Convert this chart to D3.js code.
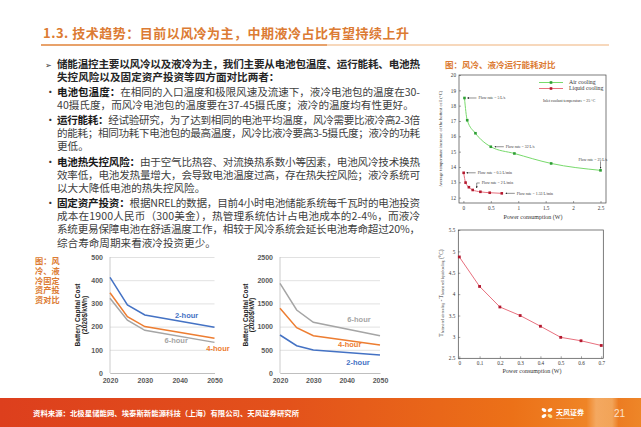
<!DOCTYPE html>
<html><head><meta charset="utf-8">
<script src="https://cdn.jsdelivr.net/npm/d3@7"></script>
<style>
html,body{margin:0;padding:0;background:#fff;}
svg{display:block;}
</style></head><body>
<svg id="c" width="641" height="427"></svg>
<script>
// ================= DATA =================
const titleText = "1.3. 技术趋势：目前以风冷为主，中期液冷占比有望持续上升";
const introLines = [
  "储能温控主要以风冷以及液冷为主，我们主要从电池包温度、运行能耗、电池热",
  "失控风险以及固定资产投资等四方面对比两者："
];
const bulletHeads = ["电池包温度：", "运行能耗：", "电池热失控风险：", "固定资产投资："];
const bulletBodies = [
  ["在相同的入口温度和极限风速及流速下，液冷电池包的温度在30-",
   "40摄氏度，而风冷电池包的温度要在37-45摄氏度；液冷的温度均有性更好。"],
  ["经试验研究，为了达到相同的电池平均温度，风冷需要比液冷高2-3倍",
   "的能耗；相同功耗下电池包的最高温度，风冷比液冷要高3-5摄氏度；液冷的功耗",
   "更低。"],
  ["由于空气比热容、对流换热系数小等因素，电池风冷技术换热",
   "效率低，电池发热量增大，会导致电池温度过高，存在热失控风险；液冷系统可",
   "以大大降低电池的热失控风险。"],
  ["根据NREL的数据，目前4小时电池储能系统每千瓦时的电池投资",
   "成本在1900人民币（300美金），热管理系统估计占电池成本的2-4%，而液冷",
   "系统更易保障电池在舒适温度工作，相较于风冷系统会延长电池寿命超过20%，",
   "综合寿命周期来看液冷投资更少。"]
];
const captionLeft = ["图：风", "冷、液", "冷固定", "资产投", "资对比"];
const captionRight = "图：风冷、液冷运行能耗对比";
const sourceText = "资料来源：北极星储能网、埃泰斯新能源科技（上海）有限公司、天风证券研究所";
const pageNumber = "21";

// NREL battery capital cost
const years = [2020, 2025, 2030, 2050];
const yearTicks = [2020, 2030, 2040, 2050];
const seriesNames = ["2-hour", "4-hour", "6-hour"];
const costKWh2h = [412, 293, 250, 197];
const costKWh4h = [346, 243, 200, 150];
const costKWh6h = [322, 228, 184, 132];
const costKW2h = [819, 588, 496, 388];
const costKW4h = [1394, 976, 804, 603];
const costKW6h = [1933, 1358, 1093, 804];
const kwhTicks = [0, 100, 200, 300, 400, 500];
const kwTicks = [0, 500, 1000, 1500, 2000, 2500];

// Air vs liquid cooling: temperature increase vs power consumption
const airPower = [0.02, 0.07, 0.22, 0.5, 0.93, 1.6, 2.5];
const airTemp = [18.5, 17.05, 16.2, 15.32, 14.88, 14.23, 13.78];
const liqPower = [0.005, 0.04, 0.1, 0.17, 0.31, 0.48, 0.7];
const liqTemp = [13.62, 12.98, 12.68, 12.5, 12.38, 12.32, 12.28];
const tempTicks = [12, 13, 14, 15, 16, 17, 18, 19, 20];
const powerTicksC = [0, 0.5, 1, 1.5, 2, 2.5];
const flowLabels = ["Flow rate = 5 L/s", "Flow rate = 32 L/s", "Flow rate = 25 L/s",
  "Flow rate = 0.5 L/min", "Flow rate = 2 L/min", "Flow rate = 1.53 L/min"];

// Temperature difference air - liquid
const diffPower = [0, 0.1, 0.2, 0.3, 0.4, 0.5, 0.6, 0.7];
const diffTemp = [4.87, 4.18, 3.70, 3.50, 3.25, 2.99, 2.91, 2.80];
const diffTicks = [2.5, 3, 3.5, 4, 4.5, 5, 5.5];
const powerTicksD = [0, 0.1, 0.2, 0.3, 0.4, 0.5, 0.6, 0.7];

// ================= DRAW =================
const svg = d3.select("#c");
const CJK = "'Noto Sans CJK SC','Noto Sans',sans-serif";
const SANS = "'Liberation Sans',Arial,sans-serif";
const SERIF = "'Liberation Serif','Times New Roman',serif";
const ORANGE = "#DC7B33";

function fitWidth(sel, target) {
  const node = sel.node();
  const natural = node.getComputedTextLength();
  const n = Array.from(node.textContent).length;
  if (n > 1) sel.attr("letter-spacing", (target - natural) / (n - 1));
}

// ---- title ----
const title = svg.append("text").attr("x", 43).attr("y", 37.5)
  .attr("font-family", CJK).attr("font-size", 13).attr("font-weight", 700)
  .attr("fill", ORANGE).text(titleText);
fitWidth(title, 366);
svg.append("line").attr("x1", 41).attr("x2", 609).attr("y1", 45).attr("y2", 45)
  .attr("stroke", "#F0B27A").attr("stroke-width", 1.2);
svg.append("line").attr("x1", 41).attr("x2", 327).attr("y1", 45).attr("y2", 45)
  .attr("stroke", "#E39050").attr("stroke-width", 1.4);

// ---- body text (one text element per paragraph, one tspan per line) ----
const FS = 10.6;
const textX = 57, rightEdge = 420;
const intro = svg.append("text").attr("font-family", CJK).attr("font-size", FS)
  .attr("font-weight", 700).attr("fill", "#262626");
introLines.forEach((s, i) => {
  const ts = intro.append("tspan").attr("x", textX).attr("y", 64 + i * 13 + 4).text(s);
  if (i === 0) fitWidth(ts, rightEdge - textX);
});
svg.append("text").attr("x", 45).attr("y", 64 + 3.5).attr("font-family", "'DejaVu Sans'")
  .attr("font-size", 8).attr("fill", "#333").text("➢");

const bulletStart = [92, 120, 162, 203];
const LH = 13.2;
bulletBodies.forEach((lines, bi) => {
  const y0 = bulletStart[bi];
  svg.append("text").attr("x", 45).attr("y", y0 + 4).attr("font-family", CJK)
    .attr("font-size", FS).attr("fill", "#333").text("•");
  const t = svg.append("text").attr("font-family", CJK).attr("font-size", FS).attr("fill", "#404040");
  lines.forEach((s, li) => {
    const ts = t.append("tspan").attr("x", textX).attr("y", y0 + li * LH + 4);
    if (li === 0) {
      ts.append("tspan").attr("font-weight", 700).attr("fill", "#1a1a1a").text(bulletHeads[bi]);
    }
    ts.append("tspan").text(s);
    if (li < lines.length - 1 && !(bi === 0 && li === 1)) fitWidth(ts, rightEdge - textX);
  });
});

// ---- captions ----
const capL = svg.append("text").attr("font-family", CJK).attr("font-size", 8.2)
  .attr("font-weight", 700).attr("fill", ORANGE);
captionLeft.forEach((s, i) => {
  capL.append("tspan").attr("x", 35).attr("y", 261 + i * 9.8 + 3).text(s);
});
svg.append("text").attr("x", 445).attr("y", 65 + 3.2)
  .attr("font-family", CJK).attr("font-size", 8.5).attr("font-weight", 700)
  .attr("fill", ORANGE).text(captionRight);

// ---- cost charts ----
const seriesColors = {"2-hour": "#4472C4", "4-hour": "#ED7D31", "6-hour": "#A5A5A5"};
function costChart(cfg) {
  const x = d3.scaleLinear().domain([2020, 2050]).range([cfg.x0, cfg.x1]);
  const y = d3.scaleLinear().domain([0, cfg.max]).range([373, 257]);
  const g = svg.append("g");
  const grid = g.append("g").attr("transform", `translate(${cfg.x0},0)`)
    .call(d3.axisLeft(y).tickValues(cfg.ticks).tickSize(-(cfg.x1 - cfg.x0)).tickFormat(""));
  grid.select(".domain").remove();
  grid.selectAll("line").attr("stroke", "#D9D9D9").attr("stroke-width", 0.8);
  const ya = g.append("g").attr("transform", `translate(${cfg.x0 - 4},0)`)
    .call(d3.axisLeft(y).tickValues(cfg.ticks).tickSize(0).tickFormat(d3.format("d")));
  ya.select(".domain").remove();
  ya.selectAll("text").attr("font-family", SANS).attr("font-size", 7).attr("font-weight", 700)
    .attr("fill", "#595959");
  const xa = g.append("g").attr("transform", `translate(0,373)`)
    .call(d3.axisBottom(x).tickValues(yearTicks).tickSize(0).tickFormat(d3.format("d")));
  xa.select(".domain").attr("stroke", "#BFBFBF");
  xa.selectAll("text").attr("font-family", SANS).attr("font-size", 7).attr("font-weight", 700)
    .attr("fill", "#595959").attr("dy", "0.95em");
  g.append("line").attr("x1", cfg.x0).attr("x2", cfg.x0).attr("y1", 257).attr("y2", 373)
    .attr("stroke", "#BFBFBF").attr("stroke-width", 0.8);
  const tt = g.append("text").attr("transform", `translate(${cfg.tx},315) rotate(-90)`)
    .attr("text-anchor", "middle").attr("font-family", SANS).attr("font-size", 6.6)
    .attr("font-weight", 700).attr("fill", "#262626");
  tt.append("tspan").attr("x", 0).attr("y", 0).text("Battery Capital Cost");
  tt.append("tspan").attr("x", 0).attr("y", 6.5).text(cfg.unit);
  const line = d3.line().x((d, i) => x(years[i])).y(d => y(d));
  cfg.series.forEach(s => {
    g.append("path").datum(s.values).attr("d", line).attr("fill", "none")
      .attr("stroke", seriesColors[s.name]).attr("stroke-width", 1.5);
  });
  cfg.labels.forEach(l => {
    g.append("text").attr("x", x(l.yr)).attr("y", y(l.v) + 2.6).attr("text-anchor", "middle")
      .attr("font-family", SANS).attr("font-size", 7.5).attr("font-weight", 700)
      .attr("fill", seriesColors[l.name]).text(l.name);
  });
}
costChart({
  x0: 110, x1: 214.5, max: 500, ticks: kwhTicks, tx: 80, unit: "(2020$/kWh)",
  series: [{name: seriesNames[0], values: costKWh2h}, {name: seriesNames[1], values: costKWh4h},
           {name: seriesNames[2], values: costKWh6h}],
  labels: [{name: "2-hour", yr: 2042, v: 250}, {name: "6-hour", yr: 2039, v: 142},
           {name: "4-hour", yr: 2051, v: 107}]
});
costChart({
  x0: 280, x1: 380, max: 2500, ticks: kwTicks, tx: 247.5, unit: "(2020$/kW)",
  series: [{name: seriesNames[0], values: costKW2h}, {name: seriesNames[1], values: costKW4h},
           {name: seriesNames[2], values: costKW6h}],
  labels: [{name: "6-hour", yr: 2043.7, v: 1164}, {name: "4-hour", yr: 2040.9, v: 625},
           {name: "2-hour", yr: 2043.4, v: 237}]
});

// ---- chart C: temperature increase ----
(function () {
  const x = d3.scaleLinear().domain([-0.08, 2.6]).range([459, 606]);
  const y = d3.scaleLinear().domain([11.65, 20]).range([203, 75]);
  const g = svg.append("g");
  g.append("rect").attr("x", 459).attr("y", 75).attr("width", 147).attr("height", 128)
    .attr("fill", "none").attr("stroke", "#444").attr("stroke-width", 0.7);
  const ya = g.append("g").attr("transform", "translate(459,0)")
    .call(d3.axisLeft(y).tickValues(tempTicks).tickSize(-2).tickPadding(3).tickFormat(d3.format("d")));
  ya.select(".domain").remove();
  const xa = g.append("g").attr("transform", "translate(0,203)")
    .call(d3.axisBottom(x).tickValues(powerTicksC).tickSize(-2).tickPadding(3).tickFormat(d => String(d)));
  xa.select(".domain").remove();
  [ya, xa].forEach(a => {
    a.selectAll("line").attr("stroke", "#444").attr("stroke-width", 0.5);
    a.selectAll("text").attr("font-family", SERIF).attr("font-size", 5.2).attr("fill", "#333");
  });
  g.append("text").attr("transform", "translate(442,139) rotate(-90)").attr("text-anchor", "middle")
    .attr("font-family", SERIF).attr("font-size", 4.6).attr("fill", "#333")
    .text("Average temperature increase of the hottest cell (°C)");
  g.append("text").attr("x", 533).attr("y", 219).attr("text-anchor", "middle")
    .attr("font-family", SERIF).attr("font-size", 6).attr("fill", "#333").text("Power consumption (W)");
  const lineA = d3.line().x((d, i) => x(airPower[i])).y(d => y(d)).curve(d3.curveMonotoneX);
  const lineL = d3.line().x((d, i) => x(liqPower[i])).y(d => y(d)).curve(d3.curveMonotoneX);
  g.append("path").datum(airTemp).attr("d", lineA).attr("fill", "none").attr("stroke", "#78DA6C").attr("stroke-width", 1);
  g.append("path").datum(liqTemp).attr("d", lineL).attr("fill", "none").attr("stroke", "#E8707E").attr("stroke-width", 1);
  airTemp.forEach((d, i) => g.append("rect").attr("x", x(airPower[i]) - 1.3).attr("y", y(d) - 1.3)
    .attr("width", 2.6).attr("height", 2.6).attr("fill", "#2E9E34"));
  liqTemp.forEach((d, i) => g.append("rect").attr("x", x(liqPower[i]) - 1.3).attr("y", y(d) - 1.3)
    .attr("width", 2.6).attr("height", 2.6).attr("fill", "#B3182E"));
  [["Air cooling", "#78DA6C", "#2E9E34", 82.5], ["Liquid cooling", "#E8707E", "#B3182E", 88.5]].forEach(l => {
    g.append("line").attr("x1", 539).attr("x2", 563).attr("y1", l[3]).attr("y2", l[3]).attr("stroke", l[1]).attr("stroke-width", 1);
    g.append("rect").attr("x", 549.7).attr("y", l[3] - 1.3).attr("width", 2.6).attr("height", 2.6).attr("fill", l[2]);
    g.append("text").attr("x", 569).attr("y", l[3] + 1.8).attr("font-family", SERIF).attr("font-size", 5.8)
      .attr("fill", "#333").text(l[0]);
  });
  g.append("text").attr("x", 543).attr("y", 102.3).attr("font-family", SERIF).attr("font-size", 3.9)
    .attr("fill", "#333").text("Inlet coolant temperature = 25 °C");
  const defs = svg.append("defs");
  defs.append("marker").attr("id", "ah").attr("viewBox", "0 0 6 6").attr("refX", 5).attr("refY", 3)
    .attr("markerWidth", 4).attr("markerHeight", 4).attr("orient", "auto")
    .append("path").attr("d", "M0,0L6,3L0,6Z").attr("fill", "#222");
  function ann(px, py, label, dx) {
    g.append("line").attr("x1", px + dx + 9).attr("x2", px + dx).attr("y1", py).attr("y2", py)
      .attr("stroke", "#222").attr("stroke-width", 0.5).attr("marker-end", "url(#ah)");
    g.append("text").attr("x", px + dx + 11).attr("y", py + 1.3).attr("font-family", SERIF)
      .attr("font-size", 3.9).attr("fill", "#333").text(label);
  }
  ann(x(airPower[0]), y(airTemp[0]), flowLabels[0], 3);
  ann(x(airPower[3]), y(airTemp[3]), flowLabels[1], 4);
  ann(x(liqPower[0]), y(liqTemp[0]), flowLabels[3], 3);
  ann(x(liqPower[6]), y(liqTemp[6]), flowLabels[5], 4);
  const lx = x(airPower[6]), ly = y(airTemp[6]);
  g.append("line").attr("x1", lx).attr("x2", lx).attr("y1", ly - 9).attr("y2", ly - 2)
    .attr("stroke", "#222").attr("stroke-width", 0.5).attr("marker-end", "url(#ah)");
  g.append("text").attr("x", lx - 22).attr("y", ly - 9.5).attr("font-family", SERIF)
    .attr("font-size", 3.9).attr("fill", "#333").text(flowLabels[2]);
  const mx = x(liqPower[3]), my = y(liqTemp[3]);
  g.append("path").attr("d", `M${mx + 7},${my - 7}L${mx + 4},${my - 7}L${mx + 4},${my - 2}`)
    .attr("fill", "none").attr("stroke", "#222").attr("stroke-width", 0.5).attr("marker-end", "url(#ah)");
  g.append("text").attr("x", mx + 9).attr("y", my - 5.7).attr("font-family", SERIF)
    .attr("font-size", 3.9).attr("fill", "#333").text(flowLabels[4]);
})();

// ---- chart D: temperature difference ----
(function () {
  const x = d3.scaleLinear().domain([-0.005, 0.71]).range([458.3, 603.3]);
  const y = d3.scaleLinear().domain([2.5, 5.5]).range([358.3, 230]);
  const g = svg.append("g");
  g.append("rect").attr("x", 458.3).attr("y", 230).attr("width", 145).attr("height", 128.3)
    .attr("fill", "none").attr("stroke", "#444").attr("stroke-width", 0.7);
  const ya = g.append("g").attr("transform", "translate(458.3,0)")
    .call(d3.axisLeft(y).tickValues(diffTicks).tickSize(-2).tickPadding(3).tickFormat(d => String(d)));
  ya.select(".domain").remove();
  const xa = g.append("g").attr("transform", "translate(0,358.3)")
    .call(d3.axisBottom(x).tickValues(powerTicksD).tickSize(-2).tickPadding(3).tickFormat(d => String(d)));
  xa.select(".domain").remove();
  [ya, xa].forEach(a => {
    a.selectAll("line").attr("stroke", "#444").attr("stroke-width", 0.5);
    a.selectAll("text").attr("font-family", SERIF).attr("font-size", 5.2).attr("fill", "#333");
  });
  const tt = g.append("text").attr("transform", "translate(443,293) rotate(-90)").attr("text-anchor", "middle")
    .attr("font-family", SERIF).attr("font-size", 5.6).attr("fill", "#333");
  tt.append("tspan").text("T");
  tt.append("tspan").attr("font-size", 3.4).attr("dy", 1.2).text("hottest cell air cooling");
  tt.append("tspan").attr("dy", -1.2).text(" - T");
  tt.append("tspan").attr("font-size", 3.4).attr("dy", 1.2).text("hottest cell liquid cooling");
  tt.append("tspan").attr("dy", -1.2).text(" (°C)");
  g.append("text").attr("x", 532).attr("y", 373).attr("text-anchor", "middle")
    .attr("font-family", SERIF).attr("font-size", 6).attr("fill", "#333").text("Power consumption (W)");
  const line = d3.line().x((d, i) => x(diffPower[i])).y(d => y(d));
  g.append("path").datum(diffTemp).attr("d", line).attr("fill", "none").attr("stroke", "#E8707E").attr("stroke-width", 1);
  diffTemp.forEach((d, i) => g.append("rect").attr("x", x(diffPower[i]) - 1.4).attr("y", y(d) - 1.4)
    .attr("width", 2.8).attr("height", 2.8).attr("fill", "#B3182E"));
})();

// ---- footer ----
const grad = svg.append("defs").append("linearGradient").attr("id", "fg");
[[0, "#DD3F1D"], [0.45, "#E3521B"], [0.8, "#EC7118"], [0.915, "#EF8426"], [0.93, "#F4A860"],
 [0.955, "#F2A458"], [0.965, "#EC7C22"], [1, "#EE8628"]].forEach(s =>
  grad.append("stop").attr("offset", s[0]).attr("stop-color", s[1]));
svg.append("rect").attr("x", 0).attr("y", 398).attr("width", 641).attr("height", 29).attr("fill", "url(#fg)");
svg.append("text").attr("x", 33).attr("y", 416).attr("font-family", CJK).attr("font-size", 7.4)
  .attr("font-weight", 700).attr("fill", "#fff").text(sourceText);
const logo = svg.append("g").attr("transform", "translate(547,413)");
[[-3, -3, 30, "#fff"], [3, -3, -30, "#fff"], [-3, 3, -30, "#fff"], [3, 3, 30, "#FFE08A"]].forEach(p =>
  logo.append("ellipse").attr("cx", p[0]).attr("cy", p[1]).attr("rx", 2.6).attr("ry", 1.6)
    .attr("transform", `rotate(${p[2]},${p[0]},${p[1]})`).attr("fill", p[3]));
svg.append("text").attr("x", 556).attr("y", 414.5).attr("font-family", CJK).attr("font-size", 7)
  .attr("font-weight", 700).attr("fill", "#fff").text("天风证券");
svg.append("text").attr("x", 556).attr("y", 419).attr("font-family", SANS).attr("font-size", 2.4)
  .attr("fill", "#fff").text("TF SECURITIES");
svg.append("text").attr("x", 614).attr("y", 417).attr("font-family", SANS).attr("font-size", 10)
  .attr("fill", "#FBE3CC").text(pageNumber);
</script>
</body></html>
